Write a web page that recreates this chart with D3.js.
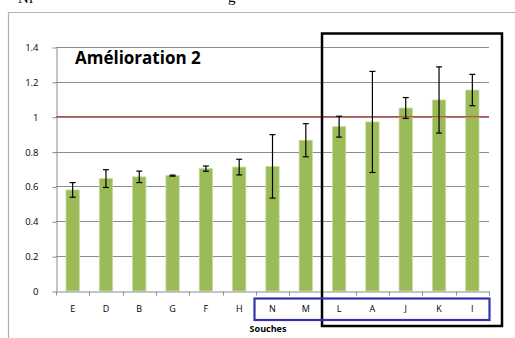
<html>
<head>
    <title>Amélioration 2</title>
    <script src="https://d3js.org/d3.v7.min.js"></script>
</head>
<body style="margin:0;background:#fff">
    <script>
        const souches = ['E', 'D', 'B', 'G', 'F', 'H', 'N', 'M', 'L', 'A', 'J', 'K', 'I']
        const valeurs = [0.58, 0.645, 0.655, 0.662, 0.702, 0.711, 0.715, 0.865, 0.943, 0.97, 1.05, 1.096, 1.153]
        const erreurs = [0.042, 0.051, 0.033, 0.003, 0.015, 0.045, 0.182, 0.095, 0.06, 0.29, 0.06, 0.19, 0.09]
        const yTicks = [0, 0.2, 0.4, 0.6, 0.8, 1, 1.2, 1.4]
        const reference = 1

        const svg = d3.select('body').append('svg')
            .attr('width', 515)
            .attr('height', 338)
            .style('display', 'block')

        // caption above the chart, cut by the top edge as in the source
        svg.append('text').attr('x', 18).attr('y', 3)
            .attr('font-family', 'Liberation Serif').attr('font-size', 15).text('Nf')
        svg.append('text').attr('x', 228).attr('y', 2)
            .attr('font-family', 'Liberation Serif').attr('font-size', 15).text('g')

        // outer chart frame (only top and left visible)
        svg.append('path')
            .attr('d', 'M8.5,338V12.5H515')
            .attr('fill', 'none')
            .attr('stroke', '#b0b0b0')
            .attr('stroke-width', 1.2)

        const x = d3.scaleBand().domain(souches).range([56, 489]).paddingInner(0.6).paddingOuter(0.3)
        const y = d3.scaleLinear().domain([0, 1.4]).range([291, 47])

        // gridlines
        svg.append('g')
            .selectAll('line')
            .data(yTicks.slice(1))
            .join('line')
            .attr('x1', 56).attr('x2', 489)
            .attr('y1', d => Math.round(y(d)) + 0.5)
            .attr('y2', d => Math.round(y(d)) + 0.5)
            .attr('stroke', '#8c8c8c')
            .attr('stroke-width', 1)

        // y axis
        const yAxis = svg.append('g')
            .attr('transform', 'translate(56.5,0.5)')
            .call(d3.axisLeft(y).tickValues(yTicks).tickSize(4).tickSizeOuter(0).tickFormat(d3.format('')))
        yAxis.select('.domain').attr('stroke', '#8c8c8c')
        yAxis.selectAll('.tick line').attr('stroke', '#8c8c8c')
        yAxis.selectAll('.tick text')
            .attr('x', -18)
            .attr('font-family', 'Open Sans')
            .attr('font-size', 9.5)
            .attr('fill', '#000')

        // bars
        svg.append('g')
            .selectAll('rect')
            .data(souches)
            .join('rect')
            .attr('x', d => x(d))
            .attr('y', (d, i) => y(valeurs[i]))
            .attr('width', x.bandwidth())
            .attr('height', (d, i) => y(0) - y(valeurs[i]))
            .attr('fill', '#9bbb59')
            .attr('stroke', '#c6dca0')
            .attr('stroke-width', 0.8)

        // reference line at 1
        svg.append('line')
            .attr('x1', 56).attr('x2', 489)
            .attr('y1', y(reference)).attr('y2', y(reference))
            .attr('stroke', '#b8524f')
            .attr('stroke-width', 1.2)

        // error bars
        const eb = svg.append('g').attr('stroke', '#000').attr('stroke-width', 1.2)
        souches.forEach((s, i) => {
            const cx = x(s) + x.bandwidth() / 2
            const top = y(valeurs[i] + erreurs[i])
            const bot = y(valeurs[i] - erreurs[i])
            eb.append('line').attr('x1', cx).attr('x2', cx).attr('y1', top).attr('y2', bot)
            eb.append('line').attr('x1', cx - 3).attr('x2', cx + 3).attr('y1', top).attr('y2', top)
            eb.append('line').attr('x1', cx - 3).attr('x2', cx + 3).attr('y1', bot).attr('y2', bot)
        })

        // x axis
        const xAxis = svg.append('g')
            .attr('transform', 'translate(0,291.5)')
            .call(d3.axisBottom(x).tickSize(0).tickSizeOuter(0))
        xAxis.select('.domain').attr('stroke', '#8c8c8c')
        xAxis.selectAll('.tick text')
            .attr('dy', null)
            .attr('y', 20)
            .attr('font-family', 'Open Sans')
            .attr('font-size', 9)
            .attr('fill', '#000')
        const step = x.step()
        xAxis.selectAll('.sep')
            .data(d3.range(souches.length + 1))
            .join('line')
            .attr('x1', i => Math.round(56 + i * step) + 0.5)
            .attr('x2', i => Math.round(56 + i * step) + 0.5)
            .attr('y1', 0).attr('y2', 4)
            .attr('stroke', '#8c8c8c')

        svg.append('text')
            .attr('x', 268).attr('y', 332)
            .attr('text-anchor', 'middle')
            .attr('font-family', 'Open Sans')
            .attr('font-weight', 'bold')
            .attr('font-size', 9)
            .text('Souches')

        svg.append('text')
            .attr('x', 75).attr('y', 64)
            .attr('font-family', 'Open Sans')
            .attr('font-weight', 'bold')
            .attr('font-size', 17)
            .text('Amélioration 2')

        // highlight boxes
        svg.append('rect')
            .attr('x', 322).attr('y', 33.5)
            .attr('width', 180).attr('height', 292.5)
            .attr('fill', 'none')
            .attr('stroke', '#000')
            .attr('stroke-width', 2.5)

        svg.append('rect')
            .attr('x', 254.5).attr('y', 298.5)
            .attr('width', 235).attr('height', 21.5)
            .attr('fill', 'none')
            .attr('stroke', '#3333b0')
            .attr('stroke-width', 2.2)
    </script>
</body>
</html>
